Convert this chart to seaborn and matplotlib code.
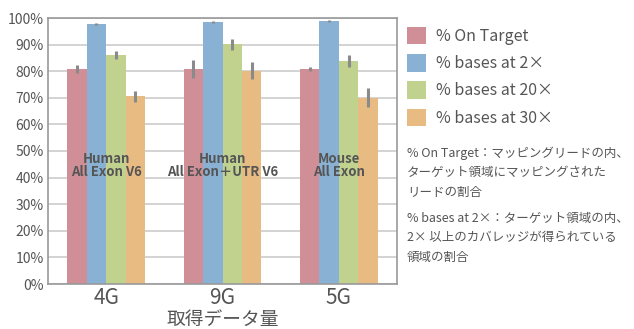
import pandas as pd
import numpy as np
import matplotlib
matplotlib.use("Agg")
import matplotlib.pyplot as plt
import seaborn as sns

groups = ["4G", "9G", "5G"]
series = ["% On Target", "% bases at 2×", "% bases at 20×", "% bases at 30×"]
on_target = [80.8, 80.8, 80.8]
bases_2x = [97.7, 98.5, 98.9]
bases_20x = [86.1, 90.1, 83.8]
bases_30x = [70.6, 80.2, 70.0]
err_on_target = [1.5, 3.5, 0.8]
err_2x = [0.5, 0.4, 0.5]
err_20x = [1.5, 2.1, 2.4]
err_30x = [2.0, 3.2, 3.5]
group_labels = ["Human\nAll Exon V6", "Human\nAll Exon＋UTR V6", "Mouse\nAll Exon"]
colors = ["#D08F96", "#88B1D3", "#C1D28F", "#E8BB83"]

values = [on_target, bases_2x, bases_20x, bases_30x]
errors = [err_on_target, err_2x, err_20x, err_30x]
df = pd.DataFrame({
    "group": [g for _ in series for g in groups],
    "series": [s for s in series for _ in groups],
    "value": [v for vals in values for v in vals],
    "err": [e for errs in errors for e in errs],
})

sns.set_style("white")
plt.rcParams["font.family"] = ["Noto Sans CJK JP", "DejaVu Sans"]
text_col = "#555555"

fig = plt.figure(figsize=(6.34, 3.29), dpi=100)
ax = fig.add_axes([48 / 634, 45 / 329, 349 / 634, 266 / 329])

sns.barplot(data=df, x="group", y="value", hue="series", order=groups,
            hue_order=series, palette=colors, errorbar=None, width=0.67,
            saturation=1, linewidth=0, ax=ax, zorder=2)

# error bars on each bar
for i, s in enumerate(series):
    cont = ax.containers[i]
    xs = [p.get_x() + p.get_width() / 2 for p in cont.patches]
    sub = df[df.series == s].set_index("group").loc[groups]
    ax.errorbar(xs, sub["value"], yerr=sub["err"], fmt="none",
                ecolor="#8a8a8a", elinewidth=2.2, capsize=0, zorder=3)

for i, lab in enumerate(group_labels):
    ax.text(i, 44.5, lab, ha="center", va="center", fontsize=9.5,
            fontweight="bold", color=text_col, linespacing=0.95, zorder=4)

ax.set_ylim(0, 100)
ax.set_xlim(-0.5, 2.5)
ax.set_yticks(np.arange(0, 101, 10))
ax.set_yticklabels([f"{v}%" for v in range(0, 101, 10)])
ax.yaxis.grid(True, color="#cccccc", linewidth=1.2, zorder=0)
ax.set_axisbelow(True)
ax.tick_params(axis="y", labelsize=10, colors=text_col, length=0, pad=3)
ax.tick_params(axis="x", labelsize=15, colors=text_col, length=0, pad=2)
for sp in ax.spines.values():
    sp.set_visible(True)
    sp.set_color("#999999")
    sp.set_linewidth(1.2)
ax.set_xlabel("取得データ量", fontsize=13.5, color=text_col, labelpad=0)
ax.set_ylabel("")

ax.legend(loc="upper left", bbox_to_anchor=(1.01, 0.99), frameon=False,
          fontsize=11.5, labelcolor=text_col, handlelength=1.2, handleheight=1.3,
          handletextpad=0.6, labelspacing=0.57, borderaxespad=0)

note1 = "% On Target：マッピングリードの内、\nターゲット領域にマッピングされた\nリードの割合"
note2 = "% bases at 2×：ターゲット領域の内、\n2× 以上のカバレッジが得られている\n領域の割合"
fig.text(407 / 634, 1 - 146 / 329, note1, ha="left", va="top", fontsize=9.0,
         color=text_col, linespacing=1.65)
fig.text(407 / 634, 1 - 212 / 329, note2, ha="left", va="top", fontsize=9.0,
         color=text_col, linespacing=1.65)

fig.savefig("out.png", dpi=100)
